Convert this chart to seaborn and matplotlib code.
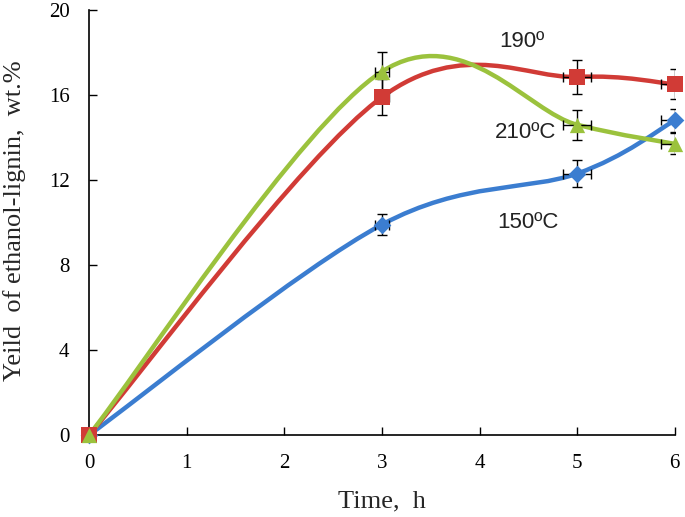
import numpy as np
import pandas as pd
import matplotlib
matplotlib.use("Agg")
import matplotlib.pyplot as plt
from matplotlib.path import Path
from matplotlib.patches import PathPatch
import seaborn as sns

# data
time_h = [0, 3, 5, 6]
yield_150 = [0, 9.9, 12.3, 14.8]
yield_190 = [0, 15.9, 16.85, 16.5]
yield_210 = [0, 17.1, 14.6, 13.7]
yerr_150 = [0, 0.5, 0.65, 0.55]
yerr_190 = [0, 0.85, 0.8, 0.7]
yerr_210 = [0, 0.9, 0.7, 0.5]
xerr_all = [0, 0.07, 0.14, 0.14]
labels = ["150ºC", "190º", "210ºC"]


def smooth_path(xs, ys):
    # excel-like smoothed line: cubic bezier with catmull-rom control points
    pts = np.column_stack([xs, ys]).astype(float)
    n = len(pts)
    verts = [pts[0]]
    codes = [Path.MOVETO]
    for i in range(n - 1):
        p0 = pts[max(i - 1, 0)]
        p1 = pts[i]
        p2 = pts[i + 1]
        p3 = pts[min(i + 2, n - 1)]
        c1 = p1 + (p2 - p0) / 6.0
        c2 = p2 - (p3 - p1) / 6.0
        verts += [c1, c2, p2]
        codes += [Path.CURVE4] * 3
    return Path(verts, codes)


sns.set_theme(style="ticks")
plt.rcParams["font.family"] = ["Liberation Serif", "DejaVu Serif"]

fig = plt.figure(figsize=(6.85, 5.17), dpi=100)
ax = fig.add_axes([0.13, 0.1586, 0.855, 0.8221])

series = [
    (yield_150, yerr_150, "#3B7DD0", "D", 9),
    (yield_190, yerr_190, "#D13B36", "s", 11),
    (yield_210, yerr_210, "#9BC23D", "^", 11),
]

for ys, ye, color, marker, ms in series:
    patch = PathPatch(smooth_path(time_h, ys), facecolor="none", edgecolor=color,
                      lw=3.2, capstyle="round", zorder=2, clip_on=False)
    ax.add_patch(patch)
    ax.errorbar(time_h[1:], ys[1:], yerr=ye[1:], xerr=xerr_all[1:], fmt="none",
                ecolor="black", elinewidth=1.0, capsize=3.5, capthick=1.0, zorder=3)
    df = pd.DataFrame({"t": time_h, "y": ys})
    sns.scatterplot(data=df, x="t", y="y", ax=ax, marker=marker, s=ms ** 2,
                    color=color, edgecolor=color, linewidth=0, zorder=4, clip_on=False)

ax.set_xlim(0, 6)
ax.set_ylim(0, 20)
ax.set_xticks(range(0, 7))
ax.set_yticks(range(0, 21, 4))
ax.tick_params(direction="in", length=6, width=1, colors="black", labelsize=15, pad=14)
for side in ["top", "right"]:
    ax.spines[side].set_visible(False)
for side in ["left", "bottom"]:
    ax.spines[side].set_color("black")
    ax.spines[side].set_linewidth(1.2)

ax.set_xlabel("Time,  h", fontsize=19)
ax.set_ylabel("Yeild  of ethanol-lignin,  wt.%", fontsize=19)
ax.xaxis.set_label_coords(0.5, -0.13)
ax.yaxis.set_label_coords(-0.108, 0.505)

txt = dict(fontsize=16, family=["Liberation Sans", "DejaVu Sans"], color="#222222",
           ha="center", va="center")
ax.text(4.5, 10.0, labels[0], **txt)
ax.text(4.43, 18.5, labels[1], **txt)
ax.text(4.47, 14.25, labels[2], **txt)

fig.savefig("out.png", dpi=100)
